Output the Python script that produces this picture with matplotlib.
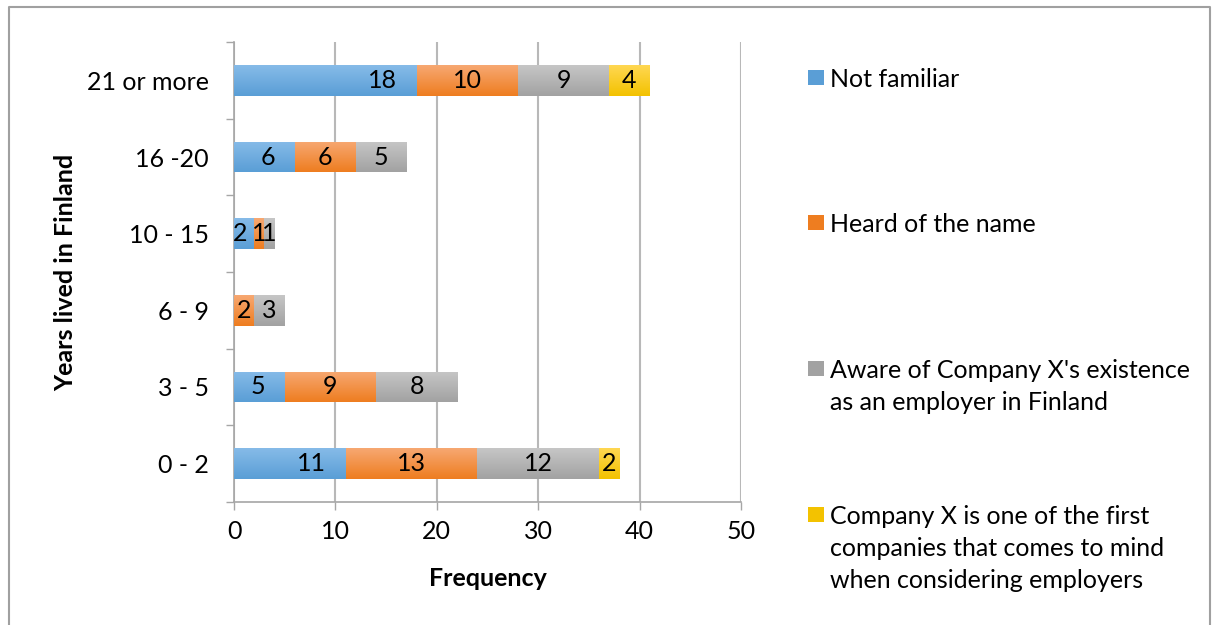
import matplotlib
matplotlib.use("Agg")

import matplotlib.pyplot as plt
import numpy as np
from matplotlib.colors import LinearSegmentedColormap
from matplotlib.lines import Line2D
from matplotlib.patches import Rectangle

plt.rcParams["font.family"] = ["Lato", "DejaVu Sans"]

W, H = 1216, 625

categories = ["0 - 2", "3 - 5", "6 - 9", "10 - 15", "16 -20", "21 or more"]
not_familiar = [11, 5, 0, 2, 6, 18]
heard_of_name = [13, 9, 2, 1, 6, 10]
aware_employer = [12, 8, 3, 1, 5, 9]
first_to_mind = [2, 0, 0, 0, 0, 4]

series_names = [
    "Not familiar",
    "Heard of the name",
    "Aware of Company X's existence\nas an employer in Finland",
    "Company X is one of the first\ncompanies that comes to mind\nwhen considering employers",
]
series_values = [not_familiar, heard_of_name, aware_employer, first_to_mind]
# (top, bottom) colours of each series' vertical gradient
series_colors = [
    ("#86bbe8", "#5a9ed6"),
    ("#f7a872", "#ee7d20"),
    ("#c6c6c6", "#a2a2a2"),
    ("#ffd752", "#f3c200"),
]
x_ticks = [0, 10, 20, 30, 40, 50]

AXIS_GRAY = "#a6a6a6"
GRID_GRAY = "#b8b8b8"
FS = 18


def px(x, y):
    """Pixel position (from top-left) to figure fraction."""
    return x / W, 1 - y / H


fig = plt.figure(figsize=(W / 100, H / 100), dpi=100)
ax = fig.add_axes([234 / W, 1 - 502 / H, (741 - 234) / W, (502 - 42) / H])

y = np.arange(len(categories))
left = np.zeros(len(categories))
for vals, (top, bottom), name in zip(series_values, series_colors, series_names):
    vals = np.array(vals, dtype=float)
    bars = ax.barh(y, vals, left=left, height=0.4, color=bottom, linewidth=0, zorder=2)
    cmap = LinearSegmentedColormap.from_list(name, [bottom, top])
    grad = np.linspace(0, 1, 64).reshape(-1, 1)
    for patch in bars:
        if patch.get_width() <= 0:
            continue
        x0, y0 = patch.get_x(), patch.get_y()
        im = ax.imshow(grad, cmap=cmap, origin="lower", aspect="auto", zorder=3,
                       extent=(x0, x0 + patch.get_width(), y0, y0 + patch.get_height()))
        im.set_clip_path(patch)
    # value labels: first series sits towards the inner end, the rest centred
    for i, v in enumerate(vals):
        if v <= 0:
            continue
        if name == series_names[0]:
            text_w = 1.25 * len(str(int(v)))
            ax.text(max(v - 1.9, text_w + 0.1), i, f"{int(v)}", ha="right", va="center",
                    fontsize=FS, zorder=4)
        else:
            ax.text(left[i] + v / 2, i, f"{int(v)}", ha="center", va="center",
                    fontsize=FS, zorder=4)
    left += vals

ax.set_xlim(0, 50)
ax.set_ylim(-0.5, len(categories) - 0.5)
ax.set_xticks(x_ticks)
ax.set_xticklabels([str(t) for t in x_ticks], fontsize=FS)
ax.set_yticks(np.arange(-0.5, len(categories)), minor=False)
ax.set_yticklabels([])
ax.set_yticks(y, minor=True)
ax.set_yticklabels(categories, minor=True, fontsize=FS)
ax.tick_params(axis="y", which="major", length=6, width=1, color=AXIS_GRAY)
ax.tick_params(axis="y", which="minor", length=0, pad=18)
ax.tick_params(axis="x", length=6, width=1, color=AXIS_GRAY, pad=7)
ax.grid(axis="x", color=GRID_GRAY, linewidth=1.5, zorder=0)
ax.set_axisbelow(True)
for side in ("top", "right"):
    ax.spines[side].set_visible(False)
for side in ("left", "bottom"):
    ax.spines[side].set_color(AXIS_GRAY)
    ax.spines[side].set_linewidth(1.2)

fig.text(*px(66, 272), "Years lived in Finland", rotation=90, ha="center", va="center",
         fontsize=FS, fontweight="bold")
fig.text(*px(488, 578), "Frequency", ha="center", va="center", fontsize=FS, fontweight="bold")

# legend, one entry per series spread down the right side
legend_rows = [78, 223, 369, 515]
for name, (top, bottom), row in zip(series_names, series_colors, legend_rows):
    fig.patches.append(Rectangle(px(808, row + 7), 16 / W, 15 / H, transform=fig.transFigure,
                                 facecolor=bottom, edgecolor="none"))
    fig.text(*px(830, row - 10), name, ha="left", va="top", fontsize=FS, linespacing=1.48)

# outer chart frame (bottom edge runs off the canvas)
fig.lines.append(Line2D([9 / W, 9 / W, 1210 / W, 1210 / W], [0, 1 - 7 / H, 1 - 7 / H, 0],
                        transform=fig.transFigure, color="#a0a0a0", linewidth=1.5))

fig.savefig("out.png", dpi=100)
